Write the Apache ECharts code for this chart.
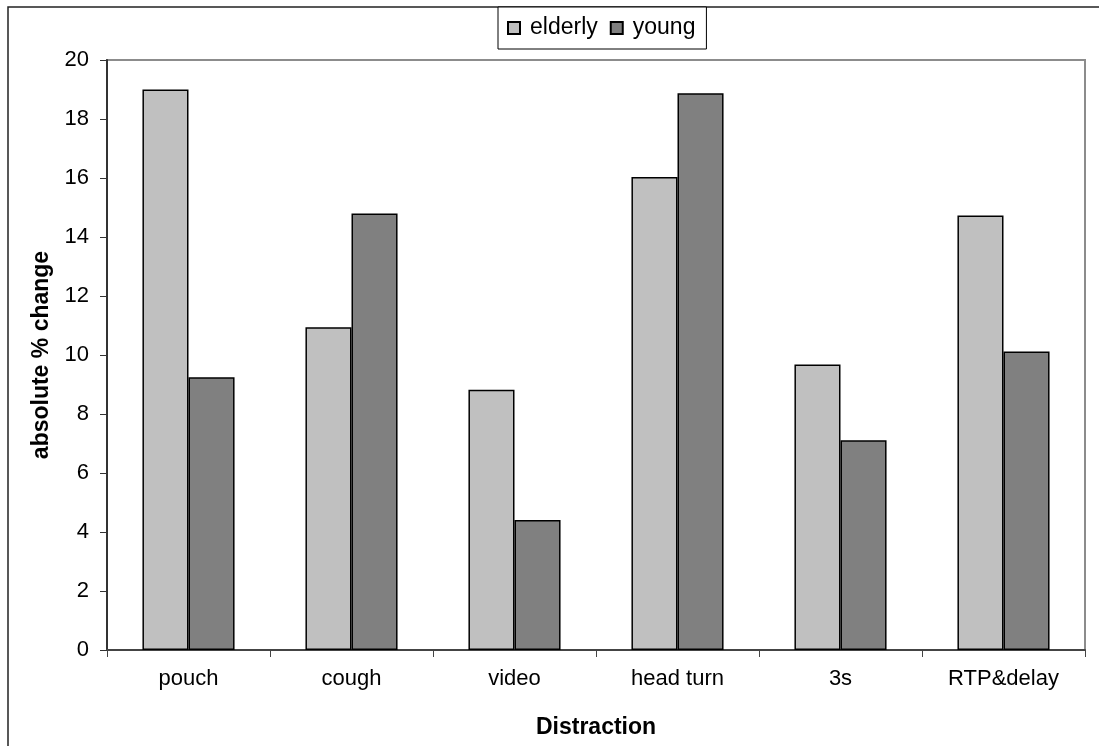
<!DOCTYPE html>
<html>
<head>
<meta charset="utf-8">
<script src="https://cdn.jsdelivr.net/npm/echarts@6/dist/echarts.min.js"></script>
<style>
html,body{margin:0;padding:0;background:#fff;}
#chart{width:1099px;height:746px;}
</style>
</head>
<body>
<div id="chart"></div>
<script>
var categories = ['pouch', 'cough', 'video', 'head turn', '3s', 'RTP&delay'];
var elderly = [19.0, 10.94, 8.82, 16.03, 9.68, 14.73];
var young = [9.25, 14.80, 4.41, 18.87, 7.11, 10.12];
var yTicks = {min: 0, max: 20, interval: 2};

var FONT = '"Liberation Sans", Arial, sans-serif';
var chart = echarts.init(document.getElementById('chart'));
chart.setOption({
  animation: false,
  backgroundColor: '#ffffff',
  textStyle: {fontFamily: FONT, color: '#000'},
  graphic: [{
    type: 'rect', silent: true, z: -1,
    shape: {x: 8, y: 7, width: 1300, height: 900},
    style: {fill: 'none', stroke: '#222', lineWidth: 1.5}
  }],
  legend: {
    left: 498, top: 7,
    padding: [8, 11, 8, 9],
    itemWidth: 12, itemHeight: 12, itemGap: 12,
    borderColor: '#000', borderWidth: 1,
    backgroundColor: '#fff',
    icon: 'rect',
    textStyle: {fontSize: 23, fontFamily: FONT, color: '#000', padding: [0, 0, 0, 5], lineHeight: 26},
    data: ['elderly', 'young']
  },
  grid: {
    left: 107, right: 14, top: 60, bottom: 96,
    show: true, borderColor: '#8c8c8c', borderWidth: 2, backgroundColor: 'transparent'
  },
  xAxis: {
    type: 'category',
    data: categories,
    name: 'Distraction',
    nameLocation: 'middle',
    nameGap: 66,
    nameTextStyle: {fontSize: 23, fontWeight: 'bold', fontFamily: FONT, color: '#000'},
    axisLine: {lineStyle: {color: '#444', width: 2}},
    axisTick: {show: true, inside: false, length: 7, alignWithLabel: false, lineStyle: {color: '#444', width: 1}},
    axisLabel: {fontSize: 22, fontFamily: FONT, color: '#000', margin: 18},
    splitLine: {show: false}
  },
  yAxis: {
    type: 'value',
    min: yTicks.min, max: yTicks.max, interval: yTicks.interval,
    name: 'absolute % change',
    nameLocation: 'middle',
    nameGap: 52,
    nameRotate: 90,
    nameTextStyle: {fontSize: 23, fontWeight: 'bold', fontFamily: FONT, color: '#000'},
    axisLine: {show: true, lineStyle: {color: '#333', width: 2}},
    axisTick: {show: true, inside: false, length: 7, lineStyle: {color: '#333', width: 1}},
    axisLabel: {fontSize: 22, fontFamily: FONT, color: '#000', margin: 18},
    splitLine: {show: false}
  },
  series: [{
    name: 'elderly', type: 'bar', data: elderly,
    barGap: '0%', barCategoryGap: '43.5%',
    itemStyle: {color: '#c0c0c0', borderColor: '#000', borderWidth: 1.5}
  }, {
    name: 'young', type: 'bar', data: young,
    barGap: '0%', barCategoryGap: '43.5%',
    itemStyle: {color: '#808080', borderColor: '#000', borderWidth: 1.5}
  }]
});
</script>
</body>
</html>
